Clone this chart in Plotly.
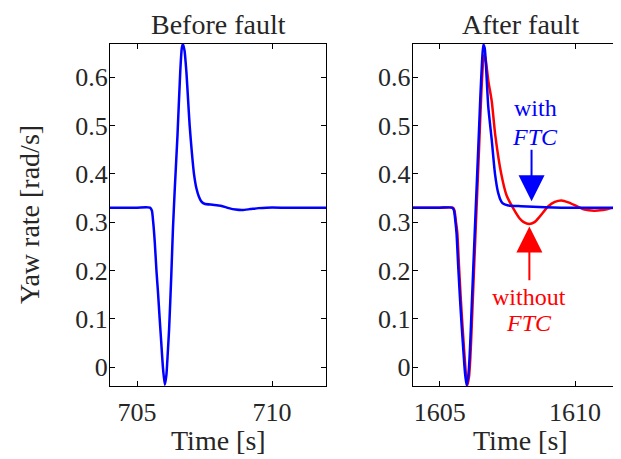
import plotly.graph_objects as go

# ---------------- data ----------------
t_before = [704.0, 705.0, 705.48, 705.55, 705.60, 705.66, 705.72, 705.78, 705.84, 705.90,
            705.96, 706.03, 706.09, 706.14, 706.19, 706.27, 706.33, 706.40, 706.50, 706.60,
            706.66, 706.70, 706.76, 706.83, 706.89, 706.95, 707.03, 707.11, 707.20, 707.29,
            707.38, 707.50, 707.80, 708.10, 708.40, 708.65, 708.90, 709.20,
            709.50, 709.80, 710.50, 711.00, 712.0]
yaw_before = [0.33, 0.33, 0.33, 0.324, 0.30, 0.257, 0.20, 0.153, 0.10, 0.05,
              0.0, -0.036, -0.015, 0.03, 0.08, 0.19, 0.284, 0.37, 0.48, 0.609,
              0.66, 0.668, 0.655, 0.61, 0.555, 0.50, 0.445, 0.40, 0.37, 0.353,
              0.343, 0.338, 0.336, 0.334, 0.329, 0.326, 0.325, 0.327,
              0.329, 0.33, 0.33, 0.33, 0.33]

t_with = [1604.0, 1605.0, 1605.45, 1605.52, 1605.58, 1605.62, 1605.68, 1605.75, 1605.81, 1605.87,
          1605.93, 1605.99, 1606.05, 1606.10, 1606.14, 1606.19, 1606.24, 1606.33, 1606.42, 1606.50,
          1606.56, 1606.61, 1606.66, 1606.72, 1606.79, 1606.92, 1607.04, 1607.16, 1607.27, 1607.35,
          1607.53, 1608.00, 1608.89, 1609.50, 1610.50, 1611.70]
yaw_with = [0.33, 0.33, 0.33, 0.325, 0.30, 0.277, 0.21, 0.139, 0.085, 0.036,
            -0.01, -0.037, -0.02, 0.02, 0.07, 0.14, 0.208, 0.33, 0.45, 0.56,
            0.63, 0.667, 0.66, 0.61, 0.54, 0.47, 0.40, 0.36, 0.343, 0.338,
            0.3346, 0.333, 0.331, 0.33, 0.33, 0.33]

t_without = [1604.0, 1605.0, 1605.48, 1605.54, 1605.60, 1605.65, 1605.71, 1605.78, 1605.84, 1605.90,
             1605.96, 1606.02, 1606.08, 1606.13, 1606.17, 1606.27, 1606.36, 1606.45, 1606.53, 1606.60,
             1606.65, 1606.70, 1606.80, 1606.92, 1607.05, 1607.27, 1607.47, 1607.72, 1607.96, 1608.10,
             1608.30, 1608.50, 1608.70, 1609.01, 1609.25, 1609.50, 1609.75, 1610.06, 1610.35, 1610.70,
             1611.00, 1611.35, 1611.70]
yaw_without = [0.33, 0.33, 0.33, 0.325, 0.30, 0.277, 0.21, 0.139, 0.085, 0.036,
               -0.01, -0.037, -0.02, 0.02, 0.07, 0.208, 0.33, 0.45, 0.56, 0.63,
               0.647, 0.635, 0.59, 0.55, 0.48, 0.40, 0.355, 0.328, 0.307, 0.300,
               0.296, 0.300, 0.312, 0.333, 0.342, 0.345, 0.341, 0.333, 0.326, 0.3236,
               0.325, 0.329, 0.332]

y_ticks = [0, 0.1, 0.2, 0.3, 0.4, 0.5, 0.6]
y_tick_labels = ["0", "0.1", "0.2", "0.3", "0.4", "0.5", "0.6"]
x_ticks_before = [705, 710]
x_ticks_after = [1605, 1610]
titles = ["Before fault", "After fault"]

# ---------------- figure ----------------
FONT = "Liberation Serif, Times New Roman, serif"
TXT = "#262626"
OFF = 8            # browser body margin
W, H = 621 - OFF, 459 - OFF


def fx(px):
    return (px - OFF) / W


def fy(py):
    return 1 - (py - OFF) / H


fig = go.Figure()
fig.add_trace(go.Scatter(x=t_before, y=yaw_before, mode="lines", xaxis="x", yaxis="y",
                         line=dict(color="#0000ff", width=2.5, shape="spline", smoothing=0.6),
                         showlegend=False))
fig.add_trace(go.Scatter(x=t_without, y=yaw_without, mode="lines", xaxis="x2", yaxis="y2",
                         line=dict(color="#ff0000", width=2.5, shape="spline", smoothing=0.6),
                         showlegend=False))
fig.add_trace(go.Scatter(x=t_with, y=yaw_with, mode="lines", xaxis="x2", yaxis="y2",
                         line=dict(color="#0000ff", width=2.5, shape="spline", smoothing=0.6),
                         showlegend=False))

yrange = [-0.0387, 0.6683]
ydom = [fy(386), fy(44)]
x1dom = [fx(110), fx(326)]
x2dom = [fx(412.7), 1.0]

common_x = dict(showline=True, linecolor="black", linewidth=1, ticks="inside", ticklen=5,
                tickwidth=1, tickcolor="black", showgrid=False, zeroline=False,
                ticklabelstandoff=3,
                tickfont=dict(family=FONT, size=26, color=TXT))
common_y = dict(showline=True, linecolor="black", linewidth=1, ticks="inside", ticklen=5,
                tickwidth=1, tickcolor="black", showgrid=False, zeroline=False,
                ticklabelstandoff=-4,
                range=yrange, domain=ydom, tickvals=y_ticks, ticktext=y_tick_labels,
                tickfont=dict(family=FONT, size=26, color=TXT))

fig.update_layout(
    width=W, height=H, margin=dict(l=0, r=0, t=0, b=0),
    paper_bgcolor="white", plot_bgcolor="white",
    xaxis=dict(domain=x1dom, range=[704, 712], tickvals=x_ticks_before, anchor="y",
               mirror="ticks", **common_x),
    yaxis=dict(anchor="x", mirror="ticks", **common_y),
    xaxis2=dict(domain=x2dom, range=[1604, 1611.695], tickvals=x_ticks_after, anchor="y2",
                mirror="ticks", **common_x),
    yaxis2=dict(anchor="x2", mirror=False, **common_y),
)

ann = []
# subplot titles (kept fully inside the figure area)
ann.append(dict(text=titles[0], x=708, xref="x", y=1.0, yref="paper",
                showarrow=False, xanchor="center", yanchor="top", borderpad=0,
                font=dict(family=FONT, size=28, color=TXT)))
ann.append(dict(text=titles[1], x=1608, xref="x2", y=1.0, yref="paper",
                showarrow=False, xanchor="center", yanchor="top", borderpad=0,
                font=dict(family=FONT, size=28, color=TXT)))
# x labels
for xr, xc in (("x", 708), ("x2", 1608)):
    ann.append(dict(text="Time [s]", x=xc, xref=xr, y=fy(440), yref="paper",
                    showarrow=False, xanchor="center", yanchor="middle",
                    font=dict(family=FONT, size=28, color=TXT)))
# y label
ann.append(dict(text="Yaw rate [rad/s]", x=fx(29), xref="paper", y=fy(215), yref="paper",
                showarrow=False, xanchor="center", yanchor="middle", textangle=-90,
                font=dict(family=FONT, size=28, color=TXT)))
# with FTC
ann.append(dict(text="with", x=1608.52, xref="x2", y=0.536, yref="y2", showarrow=False,
                font=dict(family=FONT, size=24, color="#0000ff")))
ann.append(dict(text="<i>FTC</i>", x=1608.52, xref="x2", y=0.477, yref="y2", showarrow=False,
                font=dict(family=FONT, size=24, color="#0000ff")))
ann.append(dict(text="", x=1608.39, y=0.343, xref="x2", yref="y2",
                ax=1608.39, ay=0.453, axref="x2", ayref="y2",
                showarrow=True, arrowhead=2, arrowsize=2.6, arrowwidth=2,
                arrowcolor="#0000ff"))
# without FTC
ann.append(dict(text="without", x=1608.31, xref="x2", y=0.146, yref="y2", showarrow=False,
                font=dict(family=FONT, size=24, color="#ff0000")))
ann.append(dict(text="<i>FTC</i>", x=1608.31, xref="x2", y=0.091, yref="y2", showarrow=False,
                font=dict(family=FONT, size=24, color="#ff0000")))
ann.append(dict(text="", x=1608.31, y=0.291, xref="x2", yref="y2",
                ax=1608.31, ay=0.177, axref="x2", ayref="y2",
                showarrow=True, arrowhead=2, arrowsize=2.6, arrowwidth=2,
                arrowcolor="#ff0000"))
fig.update_layout(annotations=ann)

fig.write_html("out.html")
